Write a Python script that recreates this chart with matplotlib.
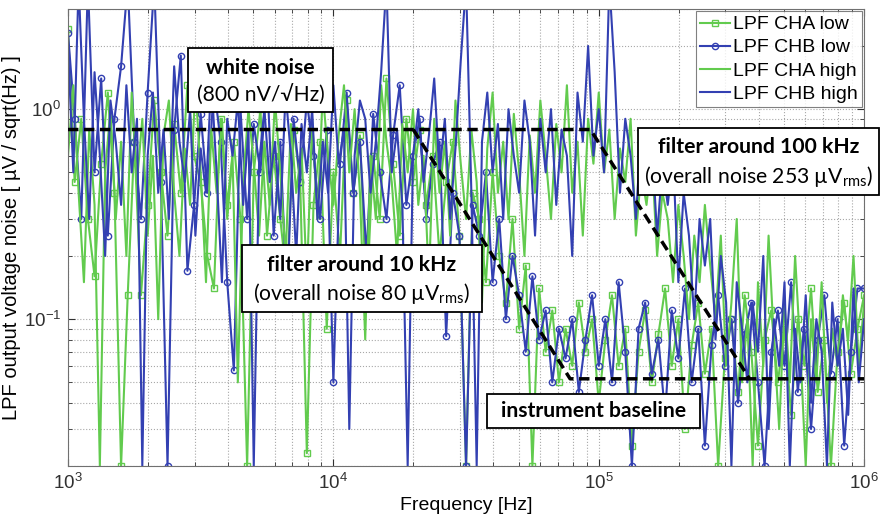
import numpy as np
import matplotlib.pyplot as plt
from matplotlib.patches import Rectangle
from matplotlib.ticker import LogLocator, NullFormatter

plt.rcParams['font.family'] = ['Liberation Sans', 'DejaVu Sans']
plt.rcParams['mathtext.fontset'] = 'custom'
plt.rcParams['mathtext.rm'] = 'Lato'

# noise spectra [uV/sqrt(Hz)], log-spaced sweep 1 kHz .. 1 MHz
cha_low = [
    2.4, 0.45, 0.9, 0.3, 0.16, 0.55, 1.2, 0.4, 0.02, 0.13,
    0.7, 0.13, 0.35, 1.1, 0.5, 0.25, 0.85, 0.4, 1.3, 0.6,
    0.45, 0.2, 0.14, 0.9, 0.35, 0.7, 0.3, 0.02, 0.5, 1.0,
    0.25, 0.6, 0.3, 0.15, 0.8, 0.45, 0.023, 0.35, 0.7, 0.09,
    0.5, 0.2, 1.1, 0.4, 0.75, 0.12, 0.6, 0.3, 1.4, 0.55,
    0.25, 0.9, 0.45, 0.8, 0.35, 0.6, 0.2, 0.45, 0.7, 0.25,
    0.02, 0.4, 0.3, 0.15, 0.5, 0.2, 0.12, 0.3, 0.09, 0.18,
    0.02, 0.14, 0.07, 0.11, 0.05, 0.09, 0.06, 0.12, 0.07, 0.1,
    0.04, 0.08, 0.13, 0.06, 0.09, 0.025, 0.07, 0.11, 0.05, 0.085,
    0.14, 0.06, 0.1, 0.03, 0.075, 0.12, 0.055, 0.09, 0.02, 0.065,
    0.1, 0.045, 0.13, 0.07, 0.025, 0.08, 0.11, 0.05, 0.09, 0.035,
    0.1, 0.06, 0.14, 0.045, 0.08, 0.02, 0.07, 0.12, 0.055, 0.09,
    0.13]

chb_low = [
    2.3, 0.9, 0.3, 4.0, 0.5, 1.4, 0.25, 0.9, 1.6, 4.0,
    0.7, 0.3, 1.2, 4.0, 0.45, 0.02, 0.8, 1.8, 0.17, 0.35,
    0.95, 0.4, 1.3, 0.7, 0.15, 0.057, 1.0, 0.3, 0.85, 0.5,
    1.5, 0.25, 0.7, 0.12, 0.9, 0.45, 1.1, 0.6, 0.3, 0.8,
    0.05, 0.55, 1.2, 0.4, 0.7, 0.2, 0.95, 0.5, 0.3, 0.75,
    1.3, 0.35, 0.6, 0.9, 0.3, 0.55, 0.7, 0.083, 0.4, 0.25,
    0.02, 0.35, 0.25, 0.5, 0.15, 0.3, 0.1, 0.2, 0.13, 0.07,
    0.16, 0.08, 0.11, 0.05, 0.09, 0.065, 0.1, 0.045, 0.08, 0.13,
    0.06, 0.1, 0.05, 0.15, 0.07, 0.02, 0.09, 0.12, 0.055, 0.08,
    0.035, 0.11, 0.065, 0.14, 0.05, 0.09, 0.025, 0.075, 0.13, 0.06,
    0.1, 0.04, 0.085, 0.12, 0.05, 0.02, 0.07, 0.11, 0.06, 0.15,
    0.045, 0.09, 0.03, 0.08, 0.13, 0.055, 0.1, 0.025, 0.07, 0.14,
    0.14]

cha_high = [
    0.6, 1.3, 0.4, 0.15, 0.8, 0.35, 0.02, 0.5, 1.0, 0.3,
    0.7, 0.2, 1.2, 0.45, 0.9, 0.25, 0.6, 0.1, 0.75, 1.1,
    0.4, 0.2, 0.65, 0.35, 1.3, 0.5, 0.15, 0.8, 0.4, 0.9,
    0.3, 0.6, 0.05, 0.45, 1.0, 0.55, 0.25, 0.7, 0.35, 1.1,
    0.5, 0.2, 0.85, 0.4, 0.65, 0.15, 0.9, 0.3, 1.2, 0.6,
    0.35, 0.75, 1.3, 0.5, 1.0, 0.4, 0.08, 0.6, 0.3, 1.3,
    0.7, 0.45, 0.2, 0.85, 0.5, 1.0, 0.35, 0.6, 0.15, 0.9,
    0.4, 0.7, 0.25, 1.1, 0.55, 0.3, 0.8, 0.45, 0.12, 0.65,
    1.2, 0.4, 0.7, 0.3, 0.95, 0.5, 0.2, 0.75, 0.4, 1.1,
    0.6, 0.3, 0.85, 0.5, 1.3, 0.4, 0.7, 0.25, 0.9, 0.55,
    1.2, 0.5, 0.8, 0.3, 0.65, 0.45, 0.9, 0.25, 0.5, 0.35,
    0.6, 0.2, 0.4, 0.3, 0.15, 0.35, 0.2, 0.1, 0.25, 0.15,
    0.35, 0.18, 0.1, 0.25, 0.06, 0.12, 0.3, 0.05, 0.1, 0.02,
    0.15, 0.06, 0.25, 0.08, 0.03, 0.12, 0.05, 0.2, 0.07, 0.02,
    0.1, 0.05, 0.15, 0.04, 0.09, 0.06, 0.13, 0.08, 0.2, 0.06,
    0.12]

chb_high = [
    2.0, 0.5, 4.0, 0.9, 0.3, 1.5, 0.6, 0.2, 1.1, 0.7,
    0.35, 1.3, 0.5, 0.9, 0.02, 0.6, 1.2, 0.4, 0.8, 0.3,
    1.6, 0.7, 0.45, 1.0, 0.25, 0.65, 0.4, 1.4, 0.5, 0.15,
    0.9, 0.6, 1.1, 0.35, 0.8, 0.02, 0.55, 1.0, 0.45, 0.7,
    0.3, 1.2, 0.6, 0.2, 0.85, 0.5, 1.0, 0.3, 0.7, 0.4,
    1.3, 0.55, 0.8, 0.03, 0.6, 1.1, 0.9, 0.4, 0.7, 1.5,
    4.0, 0.5, 0.8, 0.35, 0.02, 0.6, 1.0, 0.45, 0.75, 1.4,
    0.5, 0.9, 0.3, 0.65, 1.7, 4.0, 0.4, 0.02, 0.7, 1.2,
    0.5, 0.85, 0.3, 1.0, 0.6, 0.4, 1.1, 0.7, 0.25, 0.9,
    0.5, 1.0, 0.35, 0.8, 0.6, 0.2, 1.2, 0.7, 2.0, 0.6,
    1.0, 0.5, 4.0, 1.5, 0.4, 0.9, 0.6, 0.3, 0.8, 0.45,
    0.7, 0.25, 0.55, 0.35, 0.6, 0.15, 0.4, 0.25, 0.1, 0.3,
    0.18, 0.3, 0.08, 0.2, 0.12, 0.02, 0.15, 0.09, 0.05, 0.12,
    0.07, 0.2, 0.03, 0.1, 0.06, 0.15, 0.02, 0.09, 0.05, 0.13,
    0.04, 0.1, 0.07, 0.02, 0.12, 0.06, 0.09, 0.035, 0.14, 0.05,
    0.1]

# asymptotes: white noise, two roll-offs, instrument floor
white_f = [1e3, 9.3e4, 3.7e5, 1e6]
white_v = [0.8, 0.8, 0.052, 0.052]
roll10k_f = [2.0e4, 7.8e4, 3.7e5]
roll10k_v = [0.8, 0.052, 0.052]

f_low = np.geomspace(1e3, 1e6, len(cha_low))
f_high = np.geomspace(1e3, 1e6, len(cha_high))

green = '#62cb4e'
blue = '#3340b2'

fig = plt.figure(figsize=(8.89, 5.16), dpi=100)
ax = fig.add_axes([0.0765, 0.097, 0.8955, 0.8856])

ax.loglog(f_low, cha_low, '-s', color=green, lw=1.5, ms=4.5, mfc='none', mew=1.0, label='LPF CHA low')
ax.loglog(f_low, chb_low, '-o', color=blue, lw=1.5, ms=4.5, mfc='none', mew=1.0, label='LPF CHB low')
ax.loglog(f_high, cha_high, '-', color=green, lw=1.5, label='LPF CHA high')
ax.loglog(f_high, chb_high, '-', color=blue, lw=1.5, label='LPF CHB high')

ax.plot(white_f, white_v, 'k--', lw=2.5, dashes=(3, 1.6), zorder=5)
ax.plot(roll10k_f, roll10k_v, 'k--', lw=2.5, dashes=(3, 1.6), zorder=5)

ax.set_xlim(1e3, 1e6)
ax.set_ylim(0.02, 3)
ax.xaxis.set_major_locator(LogLocator(base=10, numticks=10))
ax.xaxis.set_minor_locator(LogLocator(base=10, subs=np.arange(2, 10), numticks=40))
ax.yaxis.set_minor_locator(LogLocator(base=10, subs=np.arange(2, 10), numticks=40))
ax.xaxis.set_minor_formatter(NullFormatter())
ax.yaxis.set_minor_formatter(NullFormatter())
ax.grid(True, which='both', linestyle=':', color='#a8a8a8', lw=0.8)
ax.tick_params(which='both', direction='in', top=True, right=True, labelsize=13.5, colors='#303030')
ax.tick_params(which='major', length=5, pad=5)
ax.tick_params(which='minor', length=3)
for s in ax.spines.values():
    s.set_color('#707070')

ax.set_xlabel('Frequency [Hz]', fontsize=14, labelpad=3)
ax.set_ylabel('LPF output voltage noise [ \u00b5V / sqrt(Hz) ]', fontsize=14.5, labelpad=2)

leg = ax.legend(loc='upper right', fontsize=14, frameon=True, fancybox=False,
                edgecolor='#606060', borderaxespad=0.1, handlelength=1.5,
                borderpad=0.25, labelspacing=0.28, handletextpad=0.15)
leg.get_frame().set_linewidth(0.8)
leg.set_zorder(20)


def label_box(x0, y0, x1, y1, lines):
    # box corners and text given in figure pixels from the top-left
    W, H = 889.0, 516.0
    rect = Rectangle((x0 / W, 1 - y1 / H), (x1 - x0) / W, (y1 - y0) / H,
                     transform=fig.transFigure, facecolor='white',
                     edgecolor='black', lw=1.3, zorder=30)
    fig.add_artist(rect)
    for txt, yc, weight in lines:
        fig.text((x0 + x1) / 2 / W, 1 - yc / H, txt, ha='center', va='center',
                 fontsize=15.2, fontweight=weight, zorder=31,
                 family=['Lato', 'DejaVu Sans'])


label_box(188, 48, 333, 112, [('white noise', 68, 'bold'),
                              ('(800 nV/\u221aHz)', 95, 'normal')])
label_box(638, 128, 879, 195, [('filter around 100 kHz', 147, 'bold'),
                               ('(overall noise 253 \u00b5V$_\\mathdefault{rms}$)', 177, 'normal')])
label_box(242, 245, 482, 312, [('filter around 10 kHz', 265, 'bold'),
                               ('(overall noise 80 \u00b5V$_\\mathdefault{rms}$)', 294, 'normal')])
label_box(487, 394, 700, 428, [('instrument baseline', 411, 'bold')])

fig.savefig('out.png', dpi=100)
